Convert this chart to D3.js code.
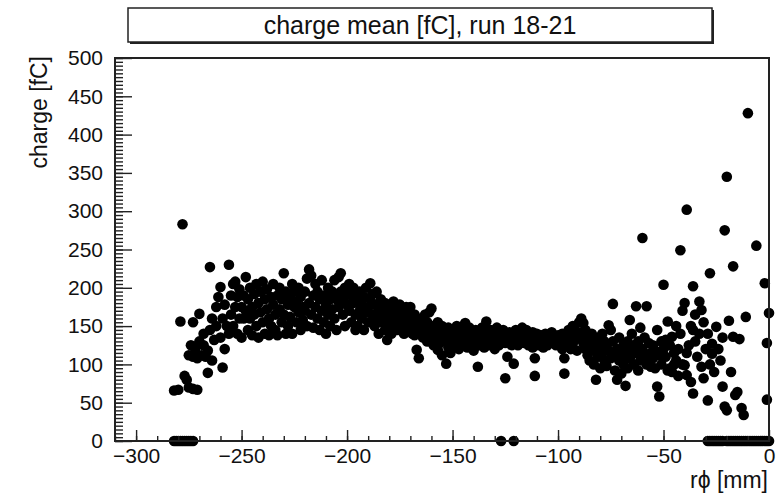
<!doctype html>
<html>
<head>
<meta charset="utf-8">
<title>charge mean</title>
<style>
  body { margin: 0; background: #fff; }
  text { font-family: "Liberation Sans", Arial, sans-serif; fill: #111; }
</style>
</head>
<body>
<div id="here"></div>
<script src="https://d3js.org/d3.v7.min.js"></script>
<script>
// tick values
var xMajor = [-300, -250, -200, -150, -100, -50, 0];
var yMajor = [0, 50, 100, 150, 200, 250, 300, 350, 400, 450, 500];

// points with zero charge, [rphi]
var zeroRphi = [-282, -281, -280, -279, -278, -277, -276, -275, -274, -273,
  -127, -121,
  -29, -28, -27, -26, -25, -24, -23, -22,
  -20, -19, -18, -17, -16, -15, -14, -13, -12, -11, -10, -9, -8, -7, -6, -5, -4, -3, -2, -1, 0];

// [rphi mm, charge fC], one array per stretch of rphi
var rise = [[-282,66],[-280,67],[-278,283],[-279,156],[-277,85],[-276,80],[-275,70],[-273,68],[-271,67],
  [-273,155],[-270,166],[-275,112],[-273,110],[-271,108],[-269,112],[-267,110],[-266,89],[-274,125],
  [-272,120],[-270,130],[-268,125],[-268,140],[-266,118],[-265,145],[-265,227],[-264,160],[-264,105],
  [-263,132],[-262,150],[-262,175],[-261,188],[-260,201],[-260,135],[-259,96],[-259,160],[-258,178],
  [-258,120],[-257,150],[-256,230],[-256,140],[-255,190],[-255,165]];

var plateau = [[-254,205],[-254,150],[-253,208],[-253,175],[-252,140],[-252,188],[-251,160],[-251,198],
  [-250,175],[-250,135],[-249,190],[-249,160],[-248,214],[-248,170],[-247,185],[-247,145],[-246,200],
  [-246,160],[-245,175],[-245,138],[-244,192],[-244,165],[-243,150],[-243,205],[-242,180],[-242,135],
  [-241,168],[-241,195],[-240,208],[-240,155],[-239,185],[-239,140],[-238,172],[-238,198],[-237,160],
  [-237,138],[-236,188],[-236,150],[-235,178],[-235,205],[-234,145],[-234,165],[-233,190],[-233,138],
  [-232,172],[-232,200],[-231,155],[-231,185],[-230,219],[-230,165],[-229,140],[-229,195],[-228,178],
  [-228,150],[-227,188],[-227,162],[-226,205],[-226,140],[-225,175],[-225,195],[-224,155],[-224,182],
  [-223,168],[-223,200],[-222,145],[-222,188],[-221,175],[-221,158],[-220,195],[-220,170],[-219,212],
  [-219,150],[-218,224],[-218,180],[-217,216],[-217,165],[-216,190],[-216,148],[-215,205],[-215,175],
  [-214,160],[-214,195],[-213,185],[-213,145],[-212,210],[-212,170],[-211,190],[-211,155],[-210,178],
  [-210,140],[-209,200],[-209,165],[-208,185],[-208,150],[-207,195],[-207,172],[-206,210],[-206,160],
  [-205,185],[-205,145],[-204,214],[-204,175],[-203,219],[-203,195],[-202,165],[-202,185],[-201,200],
  [-201,150],[-200,178],[-200,192]];

var slope = [[-199,205],[-199,170],[-198,190],[-198,155],[-197,180],[-197,200],[-196,165],[-196,145],
  [-195,185],[-195,150],[-194,195],[-194,170],[-193,160],[-193,178],[-192,188],[-192,145],[-191,200],
  [-191,168],[-190,175],[-190,155],[-189,206],[-189,185],[-188,165],[-188,192],[-187,150],[-187,178],
  [-186,195],[-186,160],[-185,170],[-185,140],[-184,185],[-184,155],[-183,165],[-183,175],[-182,145],
  [-182,180],[-181,132],[-181,160],[-180,170],[-180,150],[-179,178],[-179,140],[-178,182],[-178,160],
  [-177,155],[-177,170],[-176,165],[-176,145],[-175,178],[-175,150],[-174,160],[-174,170],[-173,140],
  [-173,165],[-172,175],[-172,155],[-171,148],[-171,168],[-170,175],[-170,160],[-169,150],[-169,140],
  [-168,165],[-168,138],[-167,119],[-167,155],[-166,108],[-166,148],[-165,160],[-165,140],[-164,152],
  [-164,135],[-163,165],[-163,145],[-162,155],[-162,130],[-161,148],[-161,168],[-160,173],[-160,140],
  [-159,150],[-159,125],[-158,145],[-158,135],[-157,119],[-157,155],[-156,140],[-156,128],[-155,150],
  [-155,112],[-154,135],[-154,145],[-153,101],[-153,130],[-152,148],[-152,122],[-151,138],[-151,115],
  [-150,145],[-150,130]];

var flat = [[-149,140],[-149,125],[-148,150],[-148,132],[-147,138],[-147,120],[-146,145],[-146,128],
  [-145,135],[-145,150],[-144,154],[-144,130],[-143,140],[-143,122],[-142,135],[-142,148],[-141,128],
  [-141,142],[-140,138],[-140,118],[-139,145],[-139,130],[-138,97],[-138,135],[-137,140],[-137,125],
  [-136,132],[-136,148],[-135,138],[-135,122],[-134,156],[-134,130],[-133,140],[-133,125],[-132,135],
  [-132,145],[-131,128],[-131,138],[-130,142],[-130,120],[-129,132],[-129,148],[-128,138],[-128,125],
  [-127,140],[-127,130],[-126,135],[-126,145],[-125,82],[-125,128],[-124,110],[-124,138],[-123,132],
  [-123,142],[-122,125],[-122,136],[-121,101],[-121,140],[-120,130],[-120,145],[-119,135],[-119,125],
  [-118,140],[-118,130],[-117,136],[-117,148],[-116,128],[-116,138],[-115,145],[-115,132],[-114,125],
  [-114,140],[-113,135],[-113,130],[-112,142],[-112,122],[-111,108],[-111,85],[-111,135],[-110,128],
  [-110,140],[-109,132],[-109,125],[-108,138],[-108,130],[-107,135],[-107,122],[-106,128],[-106,140],
  [-105,132],[-105,125],[-104,138],[-104,130],[-103,135],[-103,142],[-102,128],[-102,136],[-101,132],
  [-101,125],[-100,138],[-100,130]];

var spread = [[-99,135],[-99,125],[-98,140],[-98,120],[-97,130],[-97,108],[-97,88],[-96,135],[-96,125],
  [-95,145],[-95,130],[-94,138],[-94,120],[-93,150],[-93,128],[-92,145],[-92,132],[-91,140],[-91,118],
  [-90,155],[-90,135],[-89,160],[-89,142],[-88,154],[-88,128],[-87,145],[-87,120],[-86,135],[-86,112],
  [-85,130],[-85,105],[-84,125],[-84,140],[-83,118],[-83,100],[-82,80],[-82,128],[-81,135],[-81,110],
  [-80,122],[-80,95],[-79,115],[-79,140],[-78,105],[-78,130],[-77,125],[-77,98],[-76,151],[-76,118],
  [-75,145],[-75,108],[-74,179],[-74,130],[-73,115],[-73,92],[-72,80],[-72,120],[-71,105],[-71,135],
  [-70,110],[-70,88],[-69,125],[-69,100],[-68,72],[-68,115],[-67,130],[-67,95],[-66,158],[-66,108],
  [-65,120],[-65,140],[-64,100],[-64,125],[-63,176],[-63,115],[-62,130],[-62,92],[-61,148],[-61,105],
  [-60,265],[-60,120],[-59,135],[-59,110],[-58,176],[-58,100],[-57,106],[-57,128],[-56,97],[-56,115],
  [-55,125],[-55,108],[-54,95],[-54,118],[-53,145],[-53,71],[-52,112],[-52,58],[-51,100],[-51,130],
  [-50,204],[-50,120]];

var tail = [[-49,132],[-49,110],[-48,156],[-48,92],[-47,95],[-47,125],[-46,90],[-46,136],[-45,115],
  [-45,100],[-44,150],[-44,105],[-43,120],[-43,85],[-42,249],[-42,140],[-41,100],[-41,170],[-40,180],
  [-40,99],[-39,302],[-39,86],[-39,115],[-38,125],[-37,77],[-37,150],[-36,202],[-36,145],[-36,62],
  [-35,165],[-35,130],[-34,110],[-33,182],[-33,140],[-32,97],[-32,171],[-31,82],[-31,155],[-30,120],
  [-29,53],[-29,140],[-28,219],[-28,100],[-27,114],[-27,127],[-26,90],[-25,149],[-24,120],[-23,105],
  [-22,71],[-22,135],[-21,45],[-21,275],[-20,40],[-20,345],[-19,157],[-18,90],[-17,228],[-17,136],
  [-16,60],[-15,64],[-14,133],[-13,43],[-12,34],[-11,162],[-10,428],[-6,255],[-2,206],[-1,128],
  [-1,54],[0,167]];

var w = 776, h = 495;
// plot frame edges (not "top": that name is taken by window.top)
var plotL = 115, plotR = 769, plotT = 58, plotB = 441;

var svg = d3.select("#here").append("svg")
  .attr("width", w)
  .attr("height", h)
  .style("background", "#fff");

var x = d3.scaleLinear().domain([-310, 0]).range([plotL, plotR]);
var y = d3.scaleLinear().domain([0, 500]).range([plotB, plotT]);

// all points together, zero charge ones included
var pts = rise.concat(plateau, slope, flat, spread, tail)
  .concat(zeroRphi.map(function(r) { return [r, 0]; }));

svg.append("g")
  .selectAll("circle")
  .data(pts)
  .enter().append("circle")
  .attr("cx", function(d) { return x(d[0]); })
  .attr("cy", function(d) { return y(d[1]); })
  .attr("r", 5.3)
  .attr("fill", "#000");

// frame
svg.append("rect")
  .attr("x", plotL).attr("y", plotT)
  .attr("width", plotR - plotL).attr("height", plotB - plotT)
  .attr("fill", "none").attr("stroke", "#222").attr("stroke-width", 2);

// x axis: minor ticks, then major ticks with labels
svg.append("g")
  .attr("transform", "translate(0," + plotB + ")")
  .call(d3.axisBottom(x).tickValues(d3.range(-310, 1, 10)).tickSize(-5).tickFormat(""))
  .call(function(g) { g.select(".domain").remove(); });

var xAxis = svg.append("g")
  .attr("transform", "translate(0," + plotB + ")")
  .call(d3.axisBottom(x).tickValues(xMajor).tickSize(-11).tickPadding(7));
xAxis.select(".domain").remove();

// y axis
svg.append("g")
  .attr("transform", "translate(" + plotL + ",0)")
  .call(d3.axisLeft(y).tickValues(d3.range(0, 501, 5)).tickSize(-8).tickFormat(""))
  .call(function(g) { g.select(".domain").remove(); });

var yAxis = svg.append("g")
  .attr("transform", "translate(" + plotL + ",0)")
  .call(d3.axisLeft(y).tickValues(yMajor).tickSize(-17).tickPadding(12));
yAxis.select(".domain").remove();

svg.selectAll(".tick line").attr("stroke", "#222").attr("stroke-width", 1.4);
svg.selectAll(".tick text")
  .style("font-family", "'Liberation Sans', Arial, sans-serif")
  .style("font-size", "21px")
  .attr("fill", "#111");

// axis titles
svg.append("text")
  .attr("transform", "translate(47," + (plotT - 2) + ") rotate(-90)")
  .attr("text-anchor", "end")
  .style("font-size", "23px")
  .text("charge [fC]");

svg.append("text")
  .attr("x", 768).attr("y", 488)
  .attr("text-anchor", "end")
  .style("font-size", "23px")
  .text("rϕ [mm]");

// title box with a small shadow
svg.append("rect")
  .attr("x", 130).attr("y", 10).attr("width", 584).attr("height", 34)
  .attr("fill", "#222");
svg.append("rect")
  .attr("x", 128).attr("y", 8).attr("width", 584).attr("height", 34)
  .attr("fill", "#fff").attr("stroke", "#222").attr("stroke-width", 1.5);

svg.append("text")
  .attr("x", 420).attr("y", 34)
  .attr("text-anchor", "middle")
  .style("font-size", "25px")
  .text("charge mean [fC], run 18-21");
</script>
</body>
</html>
